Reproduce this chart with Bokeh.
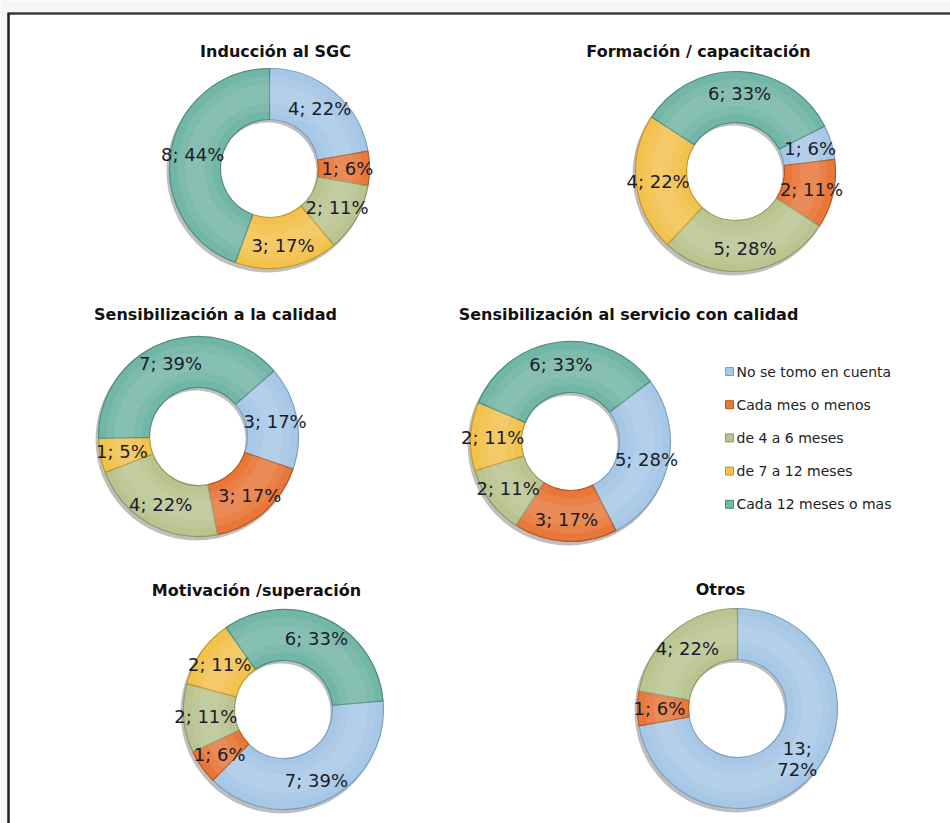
import math
from bokeh.plotting import figure
from bokeh.models import Range1d, ColumnDataSource
from bokeh.core.properties import value
from bokeh.embed import file_html
from bokeh.resources import INLINE

# ---------------- data ----------------
categories = ["No se tomo en cuenta", "Cada mes o menos", "de 4 a 6 meses",
              "de 7 a 12 meses", "Cada 12 meses o mas"]

titles = ["Inducción al SGC", "Formación / capacitación",
          "Sensibilización a la calidad", "Sensibilización al servicio con calidad",
          "Motivación /superación", "Otros"]

induccion_vals = [4, 1, 2, 3, 8]
induccion_pct = [22, 6, 11, 17, 44]
formacion_vals = [1, 2, 5, 4, 6]
formacion_pct = [6, 11, 28, 22, 33]
sens_calidad_vals = [3, 3, 4, 1, 7]
sens_calidad_pct = [17, 17, 22, 5, 39]
sens_servicio_vals = [5, 3, 2, 2, 6]
sens_servicio_pct = [28, 17, 11, 11, 33]
motivacion_vals = [7, 1, 2, 2, 6]
motivacion_pct = [39, 6, 11, 11, 33]
otros_vals = [13, 1, 4, 0, 0]
otros_pct = [72, 6, 22, 0, 0]

all_vals = [induccion_vals, formacion_vals, sens_calidad_vals,
            sens_servicio_vals, motivacion_vals, otros_vals]
all_pct = [induccion_pct, formacion_pct, sens_calidad_pct,
           sens_servicio_pct, motivacion_pct, otros_pct]

# ---------------- style / layout ----------------
colors = ["#A7C7E7", "#E8773A", "#B9C490", "#F1C24E", "#72B6A7"]
edges = ["#7E9FC2", "#B8571F", "#8E9A66", "#C4962A", "#4E8C7E"]
W, H = 950, 823
centers = [(269, 168), (735, 171), (198, 436), (570, 441), (283, 709), (737, 708)]
start_deg = [0, 63, 49, 53, 85, 0]          # clockwise from 12 o'clock
title_pos = [(275, 51), (698, 51), (215, 314), (628, 314), (256, 590), (720, 589)]
wrap_labels = {(5, 0)}                      # chart, slice with two-line label
R_OUT, R_IN, R_LAB = 100, 49, 78


def Y(y):
    return H - y


p = figure(width=W, height=H, output_backend="svg", toolbar_location=None,
           x_range=Range1d(0, W), y_range=Range1d(0, H),
           min_border=0, outline_line_color=None)
p.axis.visible = False
p.grid.visible = False
p.background_fill_color = "white"
p.border_fill_color = "white"

# frame of the original picture
p.quad(left=[0], right=[W], top=[Y(0)], bottom=[Y(12)], fill_color="#F6F6F6", line_color=None)
p.quad(left=[0], right=[7], top=[Y(0)], bottom=[0], fill_color="#F6F6F6", line_color=None)
p.segment(x0=[7], y0=[Y(13)], x1=[W], y1=[Y(13)], line_color="#3A3A3A", line_width=2.5)
p.segment(x0=[8], y0=[Y(13)], x1=[8], y1=[0], line_color="#1E1E1E", line_width=2.5)

for ci, (vals, pcts) in enumerate(zip(all_vals, all_pct)):
    cx, cy = centers[ci]
    total = sum(vals)
    # soft shadow
    p.annular_wedge(x=[cx - 2], y=[Y(cy + 3)], inner_radius=R_IN, outer_radius=R_OUT + 1,
                    start_angle=0, end_angle=2 * math.pi, fill_color="#444444",
                    fill_alpha=0.35, line_color=None)
    xs, ys, sa, ea, fc, lc = [], [], [], [], [], []
    lx, ly, lt = [], [], []
    acc = start_deg[ci]
    for si, v in enumerate(vals):
        if v == 0:
            continue
        span = v / total * 360.0
        t1, t2 = acc, acc + span
        acc = t2
        xs.append(cx)
        ys.append(Y(cy))
        sa.append(math.radians(90 - t2))
        ea.append(math.radians(90 - t1))
        fc.append(colors[si])
        lc.append(edges[si])
        tm = math.radians((t1 + t2) / 2)
        lx.append(cx + R_LAB * math.sin(tm))
        ly.append(Y(cy) + R_LAB * math.cos(tm))
        sep = ";\n" if (ci, si) in wrap_labels else "; "
        lt.append(f"{v}{sep}{pcts[si]}%")
    src = ColumnDataSource(dict(x=xs, y=ys, sa=sa, ea=ea, fc=fc, lc=lc))
    p.annular_wedge(x="x", y="y", inner_radius=R_IN, outer_radius=R_OUT,
                    start_angle="sa", end_angle="ea", direction="anticlock",
                    fill_color="fc", line_color="lc", line_width=1.2, source=src)
    # soft bevel highlight in the middle of the ring
    p.annular_wedge(x="x", y="y", inner_radius=R_IN + 8, outer_radius=R_OUT - 8,
                    start_angle="sa", end_angle="ea", direction="anticlock",
                    fill_color="white", fill_alpha=0.08, line_color=None, source=src)
    p.annular_wedge(x="x", y="y", inner_radius=R_IN + 16, outer_radius=R_OUT - 16,
                    start_angle="sa", end_angle="ea", direction="anticlock",
                    fill_color="white", fill_alpha=0.08, line_color=None, source=src)
    lsrc = ColumnDataSource(dict(x=lx, y=ly, t=lt))
    p.text(x="x", y="y", text="t", source=lsrc, text_align="center",
           text_baseline="middle", text_font=value("DejaVu Sans"),
           text_font_size="18px", text_color="#1B1B2B", text_line_height=1.0)
    tx, ty = title_pos[ci]
    p.text(x=[tx], y=[Y(ty)], text=[titles[ci]], text_align="center",
           text_baseline="middle", text_font=value("DejaVu Sans"),
           text_font_style="bold", text_font_size="16px", text_color="#111111")

# legend
leg_x, leg_y0, leg_dy = 729, 371, 33.2
lgx = [leg_x] * len(categories)
lgy = [Y(leg_y0 + i * leg_dy) for i in range(len(categories))]
p.rect(x=lgx, y=lgy, width=8, height=8, fill_color=colors, line_color=edges, line_width=1)
p.text(x=[leg_x + 7] * len(categories), y=lgy, text=categories, text_align="left",
       text_baseline="middle", text_font=value("DejaVu Sans"), text_font_size="14px",
       text_color="#222222")

open("out.html", "w").write(file_html(p, INLINE))
